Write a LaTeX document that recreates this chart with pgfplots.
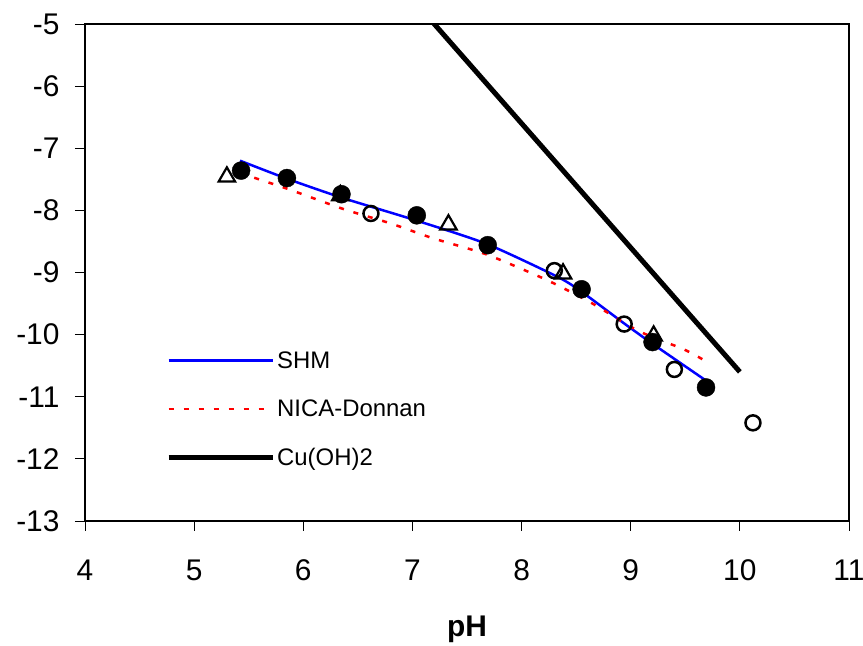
\documentclass[border=0pt]{standalone}
\usepackage{pgfplots}
\pgfplotsset{compat=1.18}
\usepackage{fontspec}
\setmainfont{Liberation Sans}
\begin{document}
\begin{tikzpicture}
\begin{axis}[
  scale only axis, width=764bp, height=497bp,
  xmin=4, xmax=11, ymin=-13, ymax=-5,
  xtick={4,5,...,11}, ytick={-13,-12,...,-5},
  tick pos=left,
  tick align=outside, major tick length=10bp,
  tick style={black, line width=0.8bp},
  axis line style={line width=1.5bp},
  /pgf/number format/assume math mode=true,
  ticklabel style={font=\fontsize{30}{34}\selectfont},
  xticklabel style={yshift=-25bp},
  yticklabel style={xshift=-12bp},
  xlabel={pH}, xlabel style={font=\fontsize{30}{34}\selectfont\bfseries, yshift=-28bp},
  legend style={at={(axis cs:4.742,-11.2)}, anchor=west, draw=none, fill=none,
    inner sep=0pt, font=\fontsize{24}{28}\selectfont, row sep=26bp},
  legend cell align=left,
  legend image code/.code={\draw[#1] (0bp,0bp) -- (104bp,0bp);},
]
\addplot[blue, line width=2.5bp, smooth, tension=0.4] coordinates {
 (5.42,-7.20) (5.85,-7.49) (6.36,-7.80) (7.03,-8.16) (7.68,-8.54)
 (8.33,-9.07) (8.55,-9.31) (8.94,-9.82) (9.21,-10.16) (9.69,-10.74)};
\addlegendentry{SHM}
\addplot[red, line width=2.5bp, dash pattern=on 5bp off 10bp, smooth, tension=0.4] coordinates {
 (5.42,-7.40) (5.85,-7.65) (6.37,-7.98) (6.80,-8.21) (7.19,-8.45) (7.68,-8.71)
 (8.23,-9.12) (8.64,-9.49) (9.07,-9.94) (9.49,-10.24) (9.71,-10.45)};
\addlegendentry{NICA-Donnan}
\addplot[black, line width=5bp] coordinates {(7.0,-4.6) (10.0,-10.6)};
\addlegendentry{Cu(OH)2}
% filled circles
\addplot[only marks, mark=*, mark size=9bp, black, forget plot] coordinates {
 (5.43,-7.36) (5.85,-7.48) (6.35,-7.74) (7.04,-8.08) (7.69,-8.56)
 (8.55,-9.27) (9.20,-10.12) (9.69,-10.85)};
% open circles
\addplot[only marks, mark=o, mark size=7.5bp, black, mark options={line width=2.5bp}, forget plot] coordinates {
 (6.62,-8.05) (8.30,-8.97) (8.94,-9.83) (9.40,-10.56) (10.12,-11.42)};
% open triangles
\addplot[only marks, mark=triangle, mark size=9.5bp, black, mark options={line width=2.2bp}, forget plot] coordinates {
 (5.30,-7.46) (6.34,-7.76) (7.33,-8.23) (8.38,-9.02) (9.21,-10.02)};
\end{axis}
\pgfresetboundingbox
\path[use as bounding box] ([xshift=-85bp,yshift=-124.3bp]current axis.south west) rectangle ([xshift=14bp,yshift=24bp]current axis.north east);
\end{tikzpicture}
\end{document}
